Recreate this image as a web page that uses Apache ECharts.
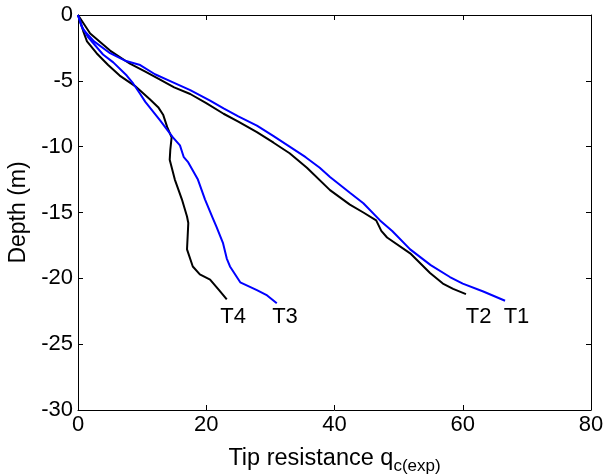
<!DOCTYPE html>
<html>
<head>
<meta charset="utf-8">
<script src="https://cdn.jsdelivr.net/npm/echarts@6/dist/echarts.min.js"></script>
<style>html,body{margin:0;padding:0;background:#fff}#c{width:605px;height:474px}</style>
</head>
<body>
<div id="c"></div>
<script>
// [tip resistance, depth]
var T1 = [[0,0],[0.8,-1.1],[2.5,-2.0],[5,-2.9],[7.5,-3.5],[9.7,-3.8],[12,-4.5],[14.3,-5.0],[17.5,-5.7],[20.6,-6.5],[22.7,-7.1],[25,-7.7],[27.9,-8.4],[30.5,-9.2],[33,-10],[35.5,-10.8],[37.7,-11.6],[39.3,-12.3],[42.4,-13.5],[44.5,-14.3],[47.1,-15.6],[49,-16.4],[51.8,-17.8],[55,-19],[58,-19.9],[60,-20.4],[63.2,-21],[66.6,-21.7]];
var T2 = [[0,0],[1.9,-1.4],[5,-2.7],[8.1,-3.7],[10.5,-4.3],[12.8,-4.9],[15,-5.5],[17.5,-6.0],[20,-6.7],[22.7,-7.5],[25,-8.1],[27.9,-8.9],[30.5,-9.7],[33,-10.5],[35.7,-11.6],[39.3,-13.3],[42.4,-14.4],[44.5,-15],[46.5,-15.6],[47.3,-16.4],[48.2,-16.9],[51.8,-18.1],[54.9,-19.6],[56.9,-20.4],[58.5,-20.8],[60.5,-21.2]];
var T3 = [[0,0],[0.5,-0.8],[1.6,-1.7],[3.9,-3.0],[5.5,-3.6],[7.6,-4.6],[8.6,-5.2],[9.7,-6.0],[10.5,-6.6],[12.8,-8.0],[14.8,-9.3],[15.9,-9.9],[16.5,-10.8],[17.2,-11.2],[18.7,-12.5],[19.8,-14],[21,-15.4],[21.6,-16.1],[22.6,-17.3],[23.2,-18.5],[23.7,-19.1],[25.3,-20.3],[27.9,-20.9],[29.5,-21.3],[31,-21.9]];
var T4 = [[0,0],[0.8,-1.2],[1.4,-2],[2.9,-2.9],[4.7,-3.8],[6.5,-4.6],[8.9,-5.4],[11.2,-6.4],[12.5,-7.0],[13.3,-7.6],[13.9,-8.5],[14.6,-9.3],[14.4,-10.2],[14.3,-11],[15.1,-12.5],[16.2,-14],[17,-15.3],[17.2,-15.8],[17.1,-16.8],[17,-17.8],[17.9,-19.1],[19,-19.7],[20.6,-20.1],[22,-20.9],[23.2,-21.6]];
var seriesNames = ['T1','T2','T3','T4'];
var seriesColors = ['#0000ff','#000000','#0000ff','#000000'];
// text labels: [x (left edge), depth]
var labelPos = [[66.3,-22.9],[60.4,-22.9],[30.2,-22.9],[22.1,-22.9]];
var xTicks = {min:0, max:80, interval:20};
var yTicks = {min:-30, max:0, interval:5};

var FONT = 'Arial, "Liberation Sans", sans-serif';
var chart = echarts.init(document.getElementById('c'), null, {renderer:'canvas'});
var datasets = [T1,T2,T3,T4];
var series = datasets.map(function(d,i){
  return {type:'line', name:seriesNames[i], data:d, showSymbol:false, symbol:'none',
    lineStyle:{color:seriesColors[i], width:2}, itemStyle:{color:seriesColors[i]}, z:3-(i%2)};
});
series.push({type:'scatter', name:'labels', symbolSize:1, z:5, silent:true,
  itemStyle:{color:'rgba(0,0,0,0)', opacity:1},
  label:{show:true, position:'right', distance:0, color:'#000', opacity:1, textBorderWidth:0, fontSize:22, fontFamily:FONT,
    formatter:function(p){ return seriesNames[p.dataIndex]; }},
  emphasis:{disabled:true},
  data:labelPos,
  labelLayout:{hideOverlap:false}});

var axisLine = {show:true, onZero:false, lineStyle:{color:'#000', width:1}};
chart.setOption({
  backgroundColor:'#fff',
  animation:false,
  grid:{left:78, right:14, top:15, bottom:64, containLabel:false, outerBoundsMode:'none'},
  xAxis:[{type:'value', min:xTicks.min, max:xTicks.max, interval:xTicks.interval, position:'bottom',
    axisLine:axisLine, axisTick:{show:true, inside:true, length:5, lineStyle:{color:'#000'}}, splitLine:{show:false},
    axisLabel:{color:'#000', fontSize:22, fontFamily:FONT, margin:4},
    name:'{a|Tip resistance q}{b|c(exp)}', nameLocation:'middle', nameGap:33,
    nameTextStyle:{color:'#000', fontFamily:FONT, rich:{a:{fontSize:23.5, fontFamily:FONT, color:'#000'}, b:{fontSize:17, fontFamily:FONT, color:'#000', padding:[15,0,0,0], verticalAlign:'bottom'}}}},
   {type:'value', min:xTicks.min, max:xTicks.max, interval:xTicks.interval, position:'top',
    axisLine:axisLine, axisTick:{show:true, inside:true, length:5, lineStyle:{color:'#000'}}, splitLine:{show:false}, axisLabel:{show:false}}],
  yAxis:[{type:'value', min:yTicks.min, max:yTicks.max, interval:yTicks.interval, position:'left',
    axisLine:axisLine, axisTick:{show:true, inside:true, length:5, lineStyle:{color:'#000'}}, splitLine:{show:false},
    axisLabel:{color:'#000', fontSize:22, fontFamily:FONT, margin:5},
    name:'Depth (m)', nameLocation:'middle', nameGap:46, nameTextStyle:{color:'#000', fontSize:23, fontFamily:FONT}},
   {type:'value', min:yTicks.min, max:yTicks.max, interval:yTicks.interval, position:'right',
    axisLine:axisLine, axisTick:{show:true, inside:true, length:5, lineStyle:{color:'#000'}}, splitLine:{show:false}, axisLabel:{show:false}}],
  series:series
});
</script>
</body>
</html>
